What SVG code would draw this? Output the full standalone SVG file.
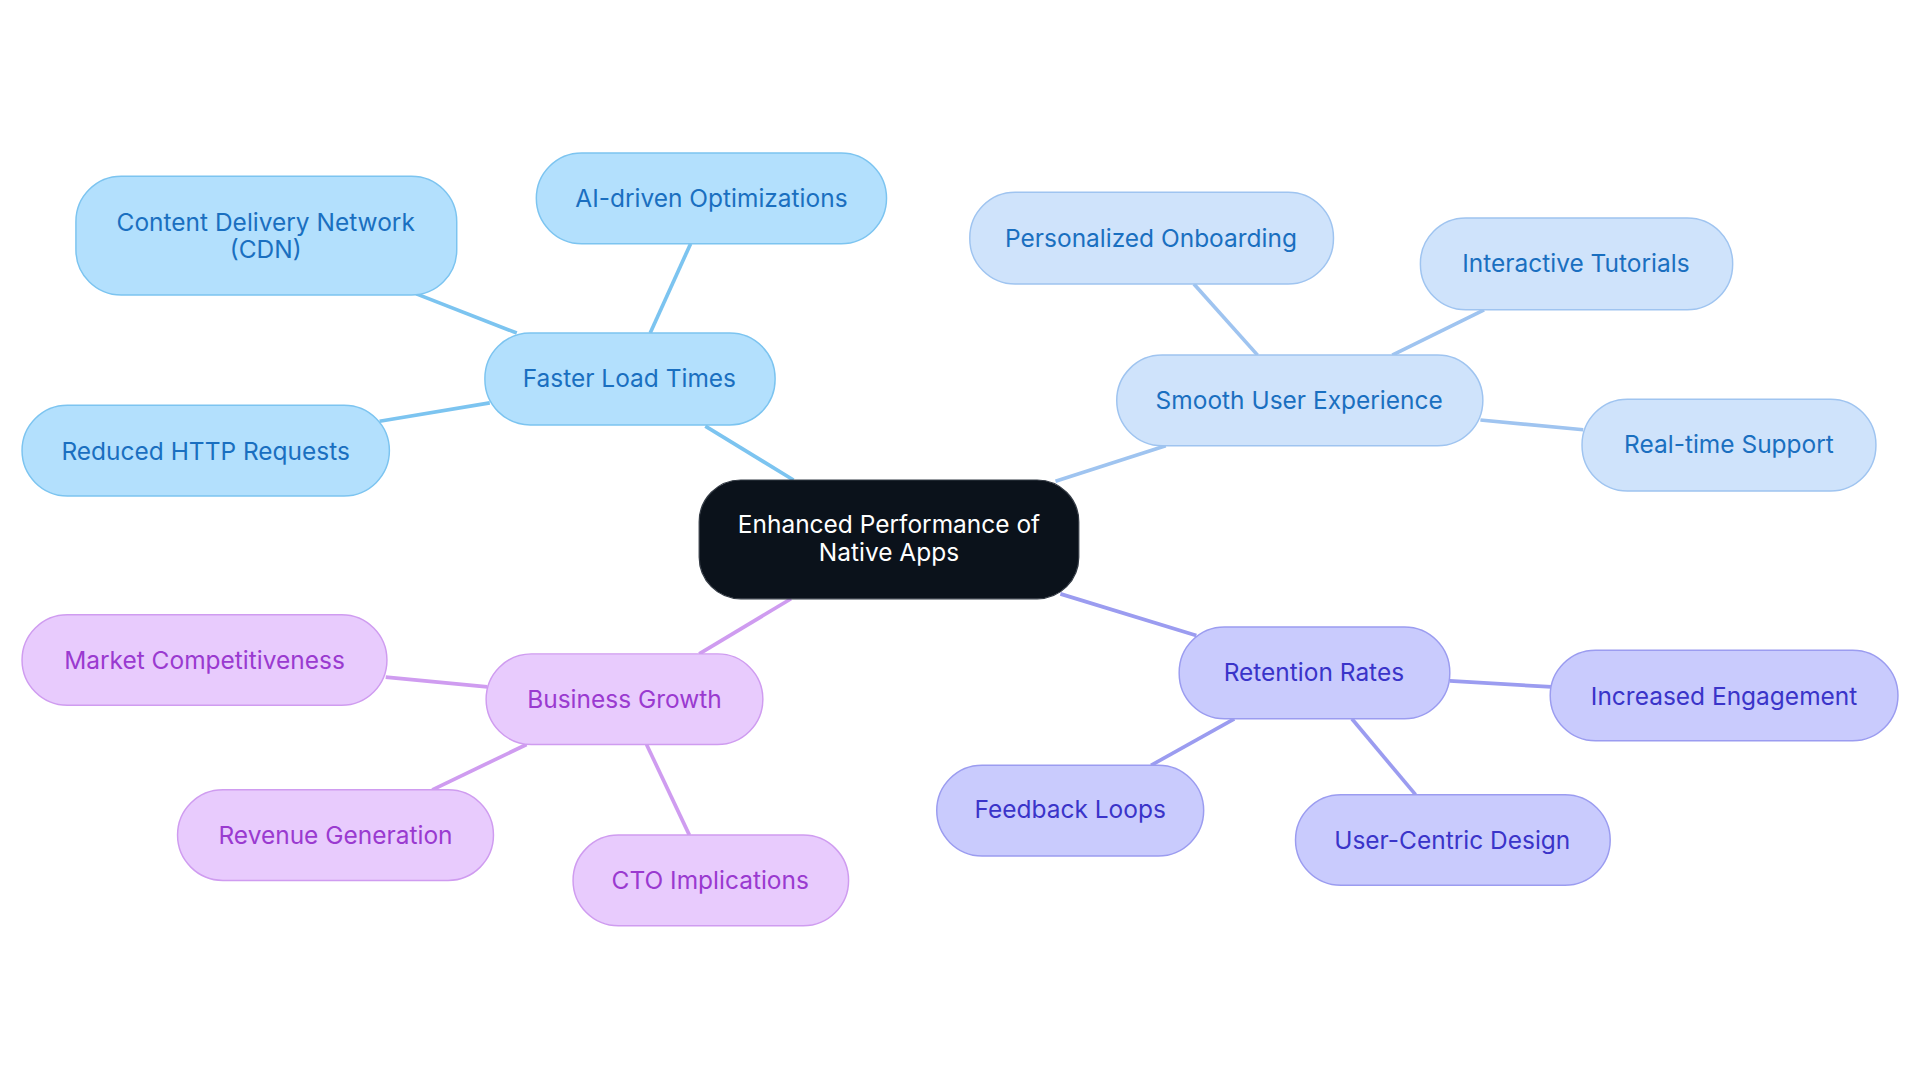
<svg xmlns="http://www.w3.org/2000/svg" width="1920" height="1083" viewBox="0 0 1920 1083">
<style>
text{font-family:Inter,"Noto Sans",sans-serif;font-size:20px;text-anchor:middle;dominant-baseline:central}
.b rect{fill:#b3e0fd;stroke:#7cc4f0;stroke-width:1.2}.b text{fill:#1a6fc0}
.s rect{fill:#cfe3fb;stroke:#9fc4f0;stroke-width:1.2}.s text{fill:#1a6fc0}
.r rect{fill:#c9cbfd;stroke:#9b9cf0;stroke-width:1.2}.r text{fill:#3a34c9}
.g rect{fill:#e8cbfd;stroke:#cf9cf0;stroke-width:1.2}.g text{fill:#9a3ad0}
.e line{stroke-width:3}
</style>
<rect width="1920" height="1083" fill="#fff"/>
<g transform="scale(1.22449)">
<g id="connectors" class="e">
<line x1="648" y1="392" x2="576" y2="348" stroke="#7cc4f0"/>
<line x1="531" y1="272" x2="564" y2="199" stroke="#7cc4f0"/>
<line x1="422" y1="272" x2="340" y2="240" stroke="#7cc4f0"/>
<line x1="400" y1="329" x2="310" y2="344" stroke="#7cc4f0"/>
<line x1="862" y1="393" x2="952" y2="364" stroke="#9fc4f0"/>
<line x1="1027" y1="290" x2="975" y2="232" stroke="#9fc4f0"/>
<line x1="1137" y1="290" x2="1212" y2="253" stroke="#9fc4f0"/>
<line x1="1209" y1="343" x2="1293" y2="351" stroke="#9fc4f0"/>
<line x1="866" y1="485" x2="977" y2="519" stroke="#9b9cf0"/>
<line x1="1184" y1="556" x2="1267" y2="561" stroke="#9b9cf0"/>
<line x1="1008" y1="587" x2="940" y2="625" stroke="#9b9cf0"/>
<line x1="1104" y1="587" x2="1156" y2="649" stroke="#9b9cf0"/>
<line x1="646" y1="489" x2="571" y2="534" stroke="#cf9cf0"/>
<line x1="398" y1="561" x2="315" y2="553" stroke="#cf9cf0"/>
<line x1="430" y1="608" x2="353" y2="645" stroke="#cf9cf0"/>
<line x1="528" y1="608" x2="563" y2="682" stroke="#cf9cf0"/>
</g>
<g id="center"><rect x="571" y="392" width="310" height="97" rx="34" fill="#0b121b" stroke="#333a44"/><text x="726" y="428" fill="#fff">Enhanced Performance of</text><text x="726" y="451" fill="#fff">Native Apps</text></g>
<g id="flt" class="b"><rect x="396" y="272" width="237" height="75" rx="37"/><text x="514" y="309">Faster Load Times</text></g>
<g id="ai" class="b"><rect x="438" y="125" width="286" height="74" rx="37"/><text x="581" y="162">AI-driven Optimizations</text></g>
<g id="cdn" class="b"><rect x="62" y="144" width="311" height="97" rx="37"/><text x="217" y="181">Content Delivery Network</text><text x="217" y="203">(CDN)</text></g>
<g id="http" class="b"><rect x="18" y="331" width="300" height="74" rx="37"/><text x="168" y="368">Reduced HTTP Requests</text></g>
<g id="sux" class="s"><rect x="912" y="290" width="299" height="74" rx="37"/><text x="1061" y="327">Smooth User Experience</text></g>
<g id="po" class="s"><rect x="792" y="157" width="297" height="75" rx="37"/><text x="940" y="194">Personalized Onboarding</text></g>
<g id="it" class="s"><rect x="1160" y="178" width="255" height="75" rx="37"/><text x="1287" y="215">Interactive Tutorials</text></g>
<g id="rt" class="s"><rect x="1292" y="326" width="240" height="75" rx="37"/><text x="1412" y="363">Real-time Support</text></g>
<g id="rr" class="r"><rect x="963" y="512" width="221" height="75" rx="37"/><text x="1073" y="549">Retention Rates</text></g>
<g id="ie" class="r"><rect x="1266" y="531" width="284" height="74" rx="37"/><text x="1408" y="568">Increased Engagement</text></g>
<g id="fl" class="r"><rect x="765" y="625" width="218" height="74" rx="37"/><text x="874" y="661">Feedback Loops</text></g>
<g id="ucd" class="r"><rect x="1058" y="649" width="257" height="74" rx="37"/><text x="1186" y="686">User-Centric Design</text></g>
<g id="bg" class="g"><rect x="397" y="534" width="226" height="74" rx="37"/><text x="510" y="571">Business Growth</text></g>
<g id="mc" class="g"><rect x="18" y="502" width="298" height="74" rx="37"/><text x="167" y="539">Market Competitiveness</text></g>
<g id="rg" class="g"><rect x="145" y="645" width="258" height="74" rx="37"/><text x="274" y="682">Revenue Generation</text></g>
<g id="cto" class="g"><rect x="468" y="682" width="225" height="74" rx="37"/><text x="580" y="719">CTO Implications</text></g>
</g>
</svg>
